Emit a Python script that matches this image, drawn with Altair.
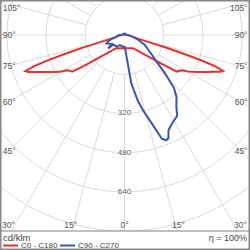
import altair as alt
import pandas as pd

# ---- data (cd/klm) ----
red_gamma = [0, 10, 20, 30, 34, 40, 45, 48, 52, 54, 55, 57, 58.5, 60, 62, 64, 66, 68, 69, 70,
             71, 71.8, 72.5, 73.2, 74, 75.5, 78, 82, 86, 90, 100, 120, 150, 180]
red_c0 = [55, 55, 57, 62, 66, 83, 108, 132, 190, 232, 260, 268, 276, 298, 320, 343, 370, 400, 418, 428,
          390, 326, 250, 183, 90, 50, 35, 25, 16, 10, 5, 3, 2, 2]
red_c180 = [55, 55, 57, 62, 66, 85, 110, 135, 195, 235, 260, 267, 275, 298, 322, 345, 372, 402, 420, 430,
            392, 325, 250, 181, 90, 50, 35, 25, 16, 10, 5, 3, 2, 2]

blue_c90_gamma = [0, 2, 8, 11.5, 14, 17, 19.8, 21.6, 23.1, 24.8, 28.2, 33, 36, 40, 43, 46.5, 50, 54, 58,
                  64, 70, 76, 82, 90, 100, 120, 150, 180]
blue_c90 = [48, 50, 200, 275, 320, 375, 450, 462, 457, 428, 410, 394, 360, 330, 296, 230, 172, 140, 115,
            92, 62, 40, 25, 12, 8, 7, 6, 6]
blue_c270_gamma = [0, 7, 25, 35, 45, 49, 51, 54, 60, 65.5, 70, 73, 75, 80, 86, 90, 100, 120, 150, 180]
blue_c270 = [48, 48, 45, 58, 58, 62, 86, 63, 72, 81, 68, 56, 41, 33, 27, 20, 10, 7, 6, 6]

series_names = ["C0 - C180", "C90 - C270"]
series_colors = ["#e8302c", "#3a55ad"]
unit_label = "cd/klm"
eta_label = "η = 100%"

ring_values = [160, 320, 480, 640, 800]
ring_labels = [320, 480, 640]
ray_angles = list(range(0, 360, 15))
bottom_angles = [0, 15, 30]
side_angles = [45, 60, 75, 90, 105]

# ---- tables ----
rows = []
for g, v in zip(red_gamma, red_c0):
    rows.append(dict(series=series_names[0], side=1, gamma=g, value=v, order=g))
for g, v in zip(red_gamma, red_c180):
    rows.append(dict(series=series_names[0], side=-1, gamma=g, value=v, order=-g))
for g, v in zip(blue_c90_gamma, blue_c90):
    rows.append(dict(series=series_names[1], side=1, gamma=g, value=v, order=g))
for g, v in zip(blue_c270_gamma, blue_c270):
    rows.append(dict(series=series_names[1], side=-1, gamma=g, value=v, order=-g))
curves = pd.DataFrame(rows)

rings = pd.DataFrame([dict(r=r, a=a) for r in ring_values for a in range(0, 361, 2)])
rays = pd.DataFrame(dict(a=ray_angles))
rlabels = pd.DataFrame(dict(v=ring_labels))
alabels = pd.DataFrame(
    [dict(a=a, side=s) for a in bottom_angles for s in ([1] if a == 0 else [-1, 1])]
    + [dict(a=a, side=s) for a in side_angles for s in [-1, 1]]
)
one = pd.DataFrame(dict(k=[0]))

X = alt.Scale(domain=[-504, 508], nice=False, zero=False)
Y = alt.Scale(domain=[-800, 139], nice=False, zero=False)
CSCALE = alt.Scale(domain=series_names, range=series_colors)
GRID = "#d9d9d9"
TXT = "#555555"
FONT = "Liberation Sans"

ring_layer = alt.Chart(rings).transform_calculate(
    x="datum.r*sin(datum.a*PI/180)", y="datum.r*cos(datum.a*PI/180)"
).mark_line(color=GRID, strokeWidth=1, clip=True).encode(
    x=alt.X("x:Q", scale=X, axis=None),
    y=alt.Y("y:Q", scale=Y, axis=None),
    detail="r:N",
    order="a:Q",
)

ray_layer = alt.Chart(rays).transform_calculate(
    x="160*sin(datum.a*PI/180)", y="-160*cos(datum.a*PI/180)",
    x2="1400*sin(datum.a*PI/180)", y2="-1400*cos(datum.a*PI/180)",
).mark_rule(color=GRID, strokeWidth=1, clip=True).encode(
    x=alt.X("x:Q", scale=X, axis=None), y=alt.Y("y:Q", scale=Y, axis=None),
    x2="x2:Q", y2="y2:Q",
)

lab_bg = alt.Chart(rlabels).transform_calculate(
    x="-30", x2="30", y="-datum.v-15", y2="-datum.v+15"
).mark_rect(color="white").encode(
    x=alt.X("x:Q", scale=X, axis=None), y=alt.Y("y:Q", scale=Y, axis=None),
    x2="x2:Q", y2="y2:Q",
)

lab_txt = alt.Chart(rlabels).transform_calculate(
    x="0", y="-datum.v", t="datum.v + ''"
).mark_text(fontSize=8, font=FONT, color=TXT, baseline="middle", align="center").encode(
    x=alt.X("x:Q", scale=X, axis=None), y=alt.Y("y:Q", scale=Y, axis=None), text="t:N",
)

ang_base = alt.Chart(alabels).transform_calculate(t="datum.a + '°'")

ang_bottom = ang_base.transform_filter("datum.a <= 30").transform_calculate(
    x="datum.side*820*tan(datum.a*PI/180)", y="-776"
).mark_text(fontSize=8.5, font=FONT, color=TXT, baseline="middle", align="center").encode(
    x=alt.X("x:Q", scale=X, axis=None), y=alt.Y("y:Q", scale=Y, axis=None), text="t:N",
)
ang_left = ang_base.transform_filter("datum.a > 30 && datum.side < 0").transform_calculate(
    x="-497", y="min(110, -475/tan(datum.a*PI/180))"
).mark_text(fontSize=8.5, font=FONT, color=TXT, baseline="middle", align="left").encode(
    x=alt.X("x:Q", scale=X, axis=None), y=alt.Y("y:Q", scale=Y, axis=None), text="t:N",
)
ang_right = ang_base.transform_filter("datum.a > 30 && datum.side > 0").transform_calculate(
    x="502", y="min(110, -475/tan(datum.a*PI/180))"
).mark_text(fontSize=8.5, font=FONT, color=TXT, baseline="middle", align="right").encode(
    x=alt.X("x:Q", scale=X, axis=None), y=alt.Y("y:Q", scale=Y, axis=None), text="t:N",
)

curve_layer = alt.Chart(curves).transform_calculate(
    x="datum.side*datum.value*sin(datum.gamma*PI/180)",
    y="-datum.value*cos(datum.gamma*PI/180)",
).mark_line(strokeWidth=2, clip=True).encode(
    x=alt.X("x:Q", scale=X, axis=None),
    y=alt.Y("y:Q", scale=Y, axis=None),
    color=alt.Color("series:N", scale=CSCALE, legend=None),
    order="order:Q",
)

sep = alt.Chart(one).mark_rule(color="#aaaaaa", strokeWidth=1.5).encode(
    x=alt.value(0), x2=alt.value(248), y=alt.value(230)
)
frame = alt.Chart(one).mark_rect(fill=None, stroke="#888888", strokeWidth=1.5).encode(
    x=alt.value(-0.25), x2=alt.value(248.25), y=alt.value(-0.25), y2=alt.value(248.25)
)
eta = alt.Chart(one).mark_text(
    text=eta_label, fontSize=9, font=FONT, fontWeight="normal", color="#444444",
    align="right", baseline="middle"
).encode(x=alt.value(246), y=alt.value(237))
unit = alt.Chart(one).mark_text(
    text=unit_label, fontSize=9.5, font=FONT, fontWeight="normal", color="#444444",
    align="left", baseline="middle"
).encode(x=alt.value(2), y=alt.value(237))

# legend entries (symbol line + label) on one row
leg = pd.DataFrame(dict(series=series_names, idx=[0, 1]))
leg_lines = alt.Chart(leg).transform_calculate(
    px="2 + datum.idx*57", px2="17 + datum.idx*57"
).mark_rule(strokeWidth=2).encode(
    x=alt.X("px:Q", scale=None), x2="px2:Q", y=alt.value(244.5),
    color=alt.Color("series:N", scale=CSCALE, legend=None),
)
leg_text = alt.Chart(leg).transform_calculate(
    px="20 + datum.idx*57"
).mark_text(fontSize=8, font=FONT, color="#444444", align="left", baseline="middle").encode(
    x=alt.X("px:Q", scale=None), y=alt.value(244.5), text="series:N",
)

chart = alt.layer(
    ring_layer, ray_layer, lab_bg, lab_txt, ang_bottom, ang_left, ang_right,
    curve_layer, sep, frame, eta, unit, leg_lines, leg_text,
).resolve_scale(x="independent").properties(
    width=248, height=230,
    padding={"left": 1, "top": 1, "right": 1, "bottom": 19},
    autosize=alt.AutoSizeParams(type="none"),
    background="white",
).configure_view(stroke=None)

chart.save("out.html", embed_options={"renderer": "svg", "actions": False})
